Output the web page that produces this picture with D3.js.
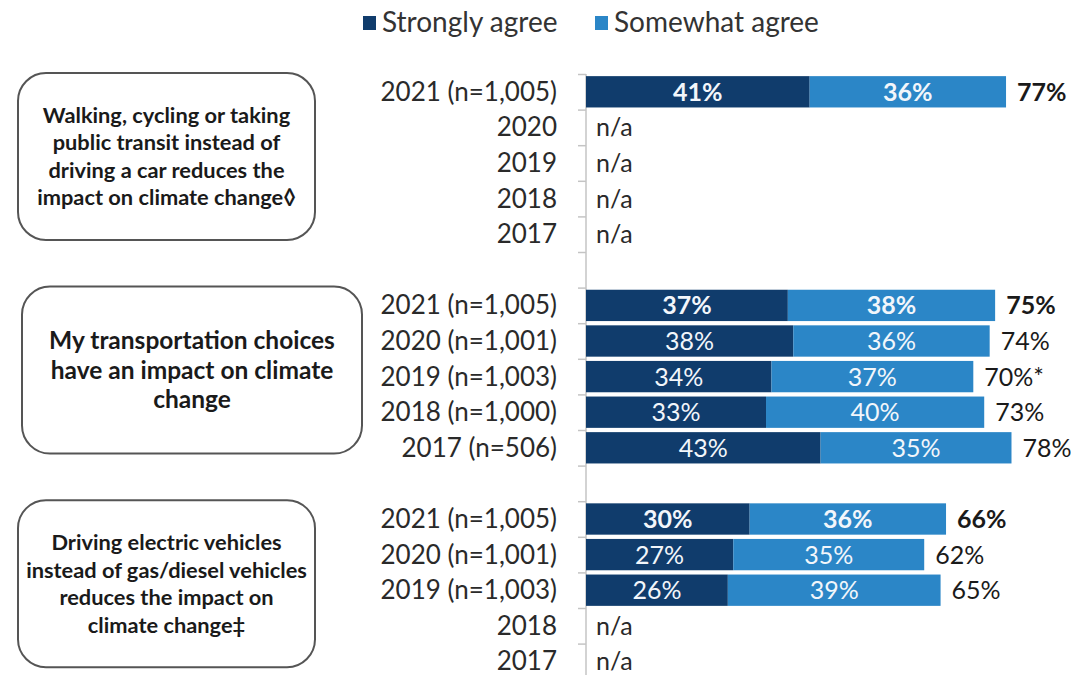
<!DOCTYPE html>
<html>
<head>
<meta charset="utf-8">
<script src="https://cdn.jsdelivr.net/npm/d3@7"></script>
<style>
  body { margin: 0; background: #fff; }
  svg { font-family: Lato, "Open Sans", sans-serif; }
</style>
</head>
<body>
<div id="chart"></div>
<script>
// data
var questions = [
    ["Walking, cycling or taking", "public transit instead of", "driving a car reduces the", "impact on climate change\u25CA"],
    ["My transportation choices", "have an impact on climate", "change"],
    ["Driving electric vehicles", "instead of gas/diesel vehicles", "reduces the impact on", "climate change\u2021"]
];
var rowLabels = [
    ["2021 (n=1,005)", "2020", "2019", "2018", "2017"],
    ["2021 (n=1,005)", "2020 (n=1,001)", "2019 (n=1,003)", "2018 (n=1,000)", "2017 (n=506)"],
    ["2021 (n=1,005)", "2020 (n=1,001)", "2019 (n=1,003)", "2018", "2017"]
];
var strongly = [
    [41, null, null, null, null],
    [37, 38, 34, 33, 43],
    [30, 27, 26, null, null]
];
var somewhat = [
    [36, null, null, null, null],
    [38, 36, 37, 40, 35],
    [36, 35, 39, null, null]
];
var totals = [
    [77, null, null, null, null],
    [75, 74, 70, 73, 78],
    [66, 62, 65, null, null]
];
var totalNotes = [
    ["", "", "", "", ""],
    ["", "", "*", "", ""],
    ["", "", "", "", ""]
];
var seriesNames = ["Strongly agree", "Somewhat agree"];
var colors = ["#103c6c", "#2b86c7"];

var width = 1071, height = 675;

var svg = d3.select("#chart").append("svg")
    .attr("width", width)
    .attr("height", height);

// build the rows, with an empty row between the groups
var rows = [];
questions.forEach(function(q, g) {
    if (g > 0) rows.push({id: "gap" + g, gap: true});
    rowLabels[g].forEach(function(lab, i) {
        rows.push({
            id: g + "-" + i, g: g, i: i, label: lab,
            s: strongly[g][i], w: somewhat[g][i],
            t: totals[g][i], note: totalNotes[g][i],
            bold: i === 0
        });
    });
});

var x = d3.scaleLinear().domain([0, 100]).range([586, 586 + 545.5]);
var y = d3.scaleBand()
    .domain(rows.map(function(d) { return d.id; }))
    .range([74, 74 + rows.length * 35.6])
    .paddingInner(0.12)
    .paddingOuter(0.06);

// tick marks between the rows
var yEdge = d3.scaleLinear().domain([0, rows.length]).range(y.range());
var axis = svg.append("g")
    .attr("transform", "translate(" + x(0) + ",0)")
    .call(d3.axisLeft(yEdge).ticks(rows.length).tickSize(8).tickFormat(""));
axis.select(".domain").remove();
axis.selectAll("line").attr("stroke", "#c4c4c4").attr("stroke-width", 1.5);
svg.append("line")
    .attr("x1", x(0)).attr("x2", x(0))
    .attr("y1", yEdge(0)).attr("y2", height)
    .attr("stroke", "#c4c4c4").attr("stroke-width", 1.5);

// legend
var legend = svg.append("g");
var legendX = [363, 595];
seriesNames.forEach(function(name, k) {
    legend.append("rect")
        .attr("x", legendX[k]).attr("y", 16)
        .attr("width", 13).attr("height", 14)
        .attr("fill", colors[k]);
    legend.append("text")
        .attr("x", legendX[k] + 19).attr("y", 32)
        .attr("font-size", 28)
        .attr("fill", "#333")
        .text(name);
});

// question boxes
var boxX = [[18, 315], [22, 362], [18, 315]];
var boxFont = [21.8, 24.5, 21.8];
var boxLine = [27.5, 29.5, 27.5];
questions.forEach(function(q, g) {
    var top = y(g + "-0") - y.step() * 0.06 - 1;
    var h = 167;
    svg.append("rect")
        .attr("x", boxX[g][0]).attr("y", top)
        .attr("width", boxX[g][1] - boxX[g][0]).attr("height", h)
        .attr("rx", 28).attr("ry", 28)
        .attr("fill", "#fff")
        .attr("stroke", "#555").attr("stroke-width", 2);
    var cx = (boxX[g][0] + boxX[g][1]) / 2;
    var cy = top + h / 2;
    var t = svg.append("text")
        .attr("text-anchor", "middle")
        .attr("font-size", boxFont[g])
        .attr("font-weight", "bold")
        .attr("fill", "#1a1a1a");
    q.forEach(function(line, k) {
        t.append("tspan")
            .attr("x", cx)
            .attr("y", cy + (k - (q.length - 1) / 2) * boxLine[g] + boxFont[g] * 0.35)
            .text(line);
    });
});

var dataRows = rows.filter(function(d) { return !d.gap; });

// row labels
svg.append("g").selectAll("text")
    .data(dataRows).enter().append("text")
    .attr("x", 557)
    .attr("y", function(d) { return y(d.id) + y.bandwidth() / 2 + 9; })
    .attr("text-anchor", "end")
    .attr("font-size", 26)
    .attr("fill", "#2a2a2a")
    .text(function(d) { return d.label; });

var withData = dataRows.filter(function(d) { return d.s != null; });
var noData = dataRows.filter(function(d) { return d.s == null; });

// bars
var bars = svg.append("g");
bars.selectAll("rect.s")
    .data(withData).enter().append("rect")
    .attr("class", "s")
    .attr("x", x(0))
    .attr("y", function(d) { return y(d.id); })
    .attr("width", function(d) { return x(d.s) - x(0); })
    .attr("height", y.bandwidth())
    .attr("fill", colors[0]);
bars.selectAll("rect.w")
    .data(withData).enter().append("rect")
    .attr("class", "w")
    .attr("x", function(d) { return x(d.s); })
    .attr("y", function(d) { return y(d.id); })
    .attr("width", function(d) { return x(d.s + d.w) - x(d.s); })
    .attr("height", y.bandwidth())
    .attr("fill", colors[1]);

// labels inside the segments
bars.selectAll("text.s")
    .data(withData).enter().append("text")
    .attr("x", function(d) { return (x(0) + x(d.s)) / 2; })
    .attr("y", function(d) { return y(d.id) + y.bandwidth() / 2 + 9; })
    .attr("text-anchor", "middle")
    .attr("font-size", 25)
    .attr("font-weight", function(d) { return d.bold ? "bold" : "normal"; })
    .attr("fill", "#f2f6fb")
    .text(function(d) { return d.s + "%"; });
bars.selectAll("text.w")
    .data(withData).enter().append("text")
    .attr("x", function(d) { return (x(d.s) + x(d.s + d.w)) / 2; })
    .attr("y", function(d) { return y(d.id) + y.bandwidth() / 2 + 9; })
    .attr("text-anchor", "middle")
    .attr("font-size", 25)
    .attr("font-weight", function(d) { return d.bold ? "bold" : "normal"; })
    .attr("fill", "#f2f6fb")
    .text(function(d) { return d.w + "%"; });

// totals
bars.selectAll("text.t")
    .data(withData).enter().append("text")
    .attr("x", function(d) { return x(d.s + d.w) + 11; })
    .attr("y", function(d) { return y(d.id) + y.bandwidth() / 2 + 9; })
    .attr("font-size", 25)
    .attr("font-weight", function(d) { return d.bold ? "bold" : "normal"; })
    .attr("fill", "#1a1a1a")
    .text(function(d) { return d.t + "%" + d.note; });

// n/a rows
svg.append("g").selectAll("text")
    .data(noData).enter().append("text")
    .attr("x", x(0) + 10)
    .attr("y", function(d) { return y(d.id) + y.bandwidth() / 2 + 9; })
    .attr("font-size", 25)
    .attr("fill", "#2a2a2a")
    .text("n/a");
</script>
</body>
</html>
